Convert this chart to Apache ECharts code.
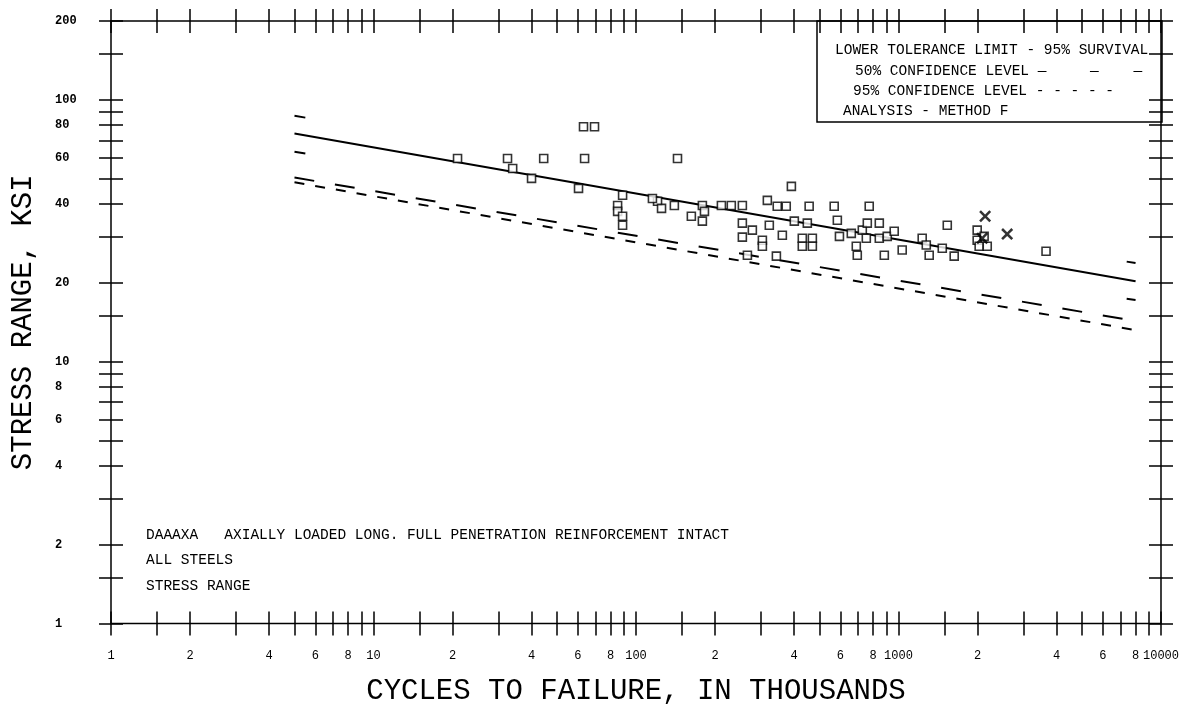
<!DOCTYPE html>
<html><head><meta charset="utf-8">
<script src="https://cdn.jsdelivr.net/npm/echarts@6/dist/echarts.min.js"></script>
<style>html,body{margin:0;padding:0;background:#fff}#chart{width:1182px;height:711px}</style>
</head><body><div id="chart"></div>
<script>
// ---- tick / label values (real units) ----
const xTickValues = [1,1.5,2,3,4,5,6,7,8,9,10,15,20,30,40,50,60,70,80,90,100,150,200,300,400,500,600,700,800,900,1000,1500,2000,3000,4000,5000,6000,7000,8000,9000,10000];
const xLabelValues = [1,2,4,6,8,10,20,40,60,80,100,200,400,600,800,1000,2000,4000,6000,8000,10000];
const xLabelTexts = ['1','2','4','6','8','10','2','4','6','8','100','2','4','6','8','1000','2','4','6','8','10000'];
const yTickValues = [1,1.5,2,3,4,5,6,7,8,9,10,15,20,30,40,50,60,70,80,90,100,150,200];
const yLabelValues = [1,2,4,6,8,10,20,40,60,80,100,200];
const yLabelTexts = ['1','2','4','6','8','10','20','40','60','80','100','200'];

// ---- test data: cycles (thousands) and stress range (ksi) ----
const squareN = [63.1,69.5,20.9,32.4,33.9,40.0,44.5,63.7,60.4,88.9,
  85.1,85.1,88.9,88.9,143.9,120.8,125.1,140,390.8,179,
  182.3,162.5,179,211.5,230.7,254.2,316.5,345.2,373.5,456.7,
  568.9,773.5,254.2,277.5,322,254.2,303,303,361,265.7,
  342.6,401,449.4,430,469.7,430,469.7,584.8,595.7,661,
  690.5,696.6,728,760.6,845,754,845,906,963,883,
  1033,1231,1276,1309,1468,1534,1630,1994,1994,2029,
  2119,2178,3648,115.5];
const squareS = [78.9,78.9,59.7,59.7,54.7,50.1,59.7,59.7,45.9,43.2,
  39.5,37.5,35.9,33.2,59.7,41.0,38.5,39.5,46.7,39.5,
  37.5,35.9,34.4,39.5,39.5,39.5,41.3,39.2,39.2,39.2,
  39.2,39.2,33.8,31.8,33.2,29.9,29.1,27.6,30.4,25.5,
  25.3,34.4,33.8,29.6,29.6,27.6,27.6,34.7,30.1,30.9,
  27.6,25.5,31.8,33.8,33.8,29.6,29.6,30.1,31.5,25.5,
  26.7,29.6,27.9,25.5,27.1,33.2,25.3,31.8,29.1,27.6,
  30.1,27.6,26.4,42.0];
const crossN = [2138, 2594, 2083];
const crossS = [35.9, 30.7, 29.6];

// ---- regression and tolerance lines ----
const lineN = [5, 8000];
const meanS = [74.3, 20.3];
const conf50S = [50.5, 14.3];
const conf95S = [48.4, 13.2];
const endLeftN = [5, 5.5];
const endRightN = [7400, 8000];
const upperLeftS = [86.9, 85.5];
const lowerLeftS = [63.4, 62.4];
const upperRightS = [24.1, 23.8];
const lowerRightS = [17.4, 17.2];

const L = Math.log10;
const pts = (ns, ss) => ns.map((n, i) => [L(n), L(ss[i])]);
const xTickLog = xTickValues.map(L);
const xLabelLog = xLabelValues.map(L);
const yTickLog = yTickValues.map(L);
const yLabelLog = yLabelValues.map(L);
const lookup = (logs, texts) => (v) => {
  for (let i = 0; i < logs.length; i++) if (Math.abs(logs[i] - v) < 1e-6) return texts[i];
  return '';
};
const FONT = '"Liberation Mono", "DejaVu Sans Mono", monospace';

function xAxis(pos, labels) {
  return {
    type: 'value', position: pos, min: 0, max: 4, offset: -12,
    axisLine: { show: false, onZero: false },
    splitLine: { show: false },
    axisTick: { show: true, customValues: xTickLog, length: 24, inside: false, lineStyle: { color: '#000', width: 1.5 } },
    axisLabel: labels ? { show: true, customValues: xLabelLog, formatter: lookup(xLabelLog, xLabelTexts), margin: 38,
      color: '#000', fontFamily: FONT, fontSize: 12 } : { show: false },
    name: labels ? 'CYCLES TO FAILURE, IN THOUSANDS' : '',
    nameLocation: 'middle', nameGap: 80,
    nameTextStyle: { fontFamily: FONT, fontSize: 29, color: '#000', verticalAlign: 'middle' }
  };
}
function yAxis(pos, labels) {
  return {
    type: 'value', position: pos, min: 0, max: L(200), offset: -12,
    axisLine: { show: false, onZero: false },
    splitLine: { show: false },
    axisTick: { show: true, customValues: yTickLog, length: 24, inside: false, lineStyle: { color: '#000', width: 1.5 } },
    axisLabel: labels ? { show: true, customValues: yLabelLog, formatter: lookup(yLabelLog, yLabelTexts), margin: 68, align: 'left',
      color: '#000', fontFamily: FONT, fontSize: 12, fontWeight: 'bold' } : { show: false },
    name: labels ? 'STRESS RANGE, KSI' : '',
    nameLocation: 'middle', nameGap: 100,
    nameTextStyle: { fontFamily: FONT, fontSize: 29, color: '#000', verticalAlign: 'middle' }
  };
}
const seg = (name, ns, ss, type) => ({
  name, type: 'line', data: pts(ns, ss), showSymbol: false, symbol: 'none', z: 2,
  lineStyle: { color: '#000', width: 2, type: type || 'solid' }
});
const txt = (x, y, s, size) => ({ type: 'text', x, y, style: { text: s, fill: '#000', font: (size || 14.5) + 'px ' + FONT, verticalAlign: 'middle' } });

const chart = echarts.init(document.getElementById('chart'), null, { renderer: 'canvas' });
chart.setOption({
  animation: false,
  backgroundColor: '#fff',
  grid: { left: 111, right: 20, top: 21, bottom: 84, show: true, borderColor: '#000', borderWidth: 1.5, backgroundColor: 'transparent' },
  xAxis: [xAxis('bottom', true), xAxis('top', false)],
  yAxis: [yAxis('left', true), yAxis('right', false)],
  series: [
    seg('Mean', lineN, meanS),
    seg('50% Confidence', lineN, conf50S, [20, 21]),
    seg('95% Confidence', lineN, conf95S, [10, 11]),
    seg('Upper L', endLeftN, upperLeftS),
    seg('Lower L', endLeftN, lowerLeftS),
    seg('Upper R', endRightN, upperRightS),
    seg('Lower R', endRightN, lowerRightS),
    { name: 'Tests', type: 'scatter', data: pts(squareN, squareS), symbol: 'rect', symbolSize: 8, z: 3,
      itemStyle: { color: '#fff', borderColor: '#000', borderWidth: 1.6 } },
    { name: 'Tests X', type: 'scatter', data: pts(crossN, crossS), z: 4,
      symbol: 'path://M0,1.5L1.5,0L5,3.5L8.5,0L10,1.5L6.5,5L10,8.5L8.5,10L5,6.5L1.5,10L0,8.5L3.5,5Z', symbolSize: 12,
      itemStyle: { color: '#000' } }
  ],
  graphic: [
    { type: 'rect', shape: { x: 817, y: 21, width: 345, height: 101 }, style: { fill: 'none', stroke: '#000', lineWidth: 1.5 } },
    txt(835, 50, 'LOWER TOLERANCE LIMIT - 95% SURVIVAL'),
    txt(855, 71, '50% CONFIDENCE LEVEL \u2014     \u2014    \u2014'),
    txt(853, 91, '95% CONFIDENCE LEVEL - - - - -'),
    txt(843, 111, 'ANALYSIS - METHOD F'),
    txt(146, 535, 'DAAAXA   AXIALLY LOADED LONG. FULL PENETRATION REINFORCEMENT INTACT'),
    txt(146, 560, 'ALL STEELS'),
    txt(146, 586, 'STRESS RANGE')
  ]
});
</script></body></html>
